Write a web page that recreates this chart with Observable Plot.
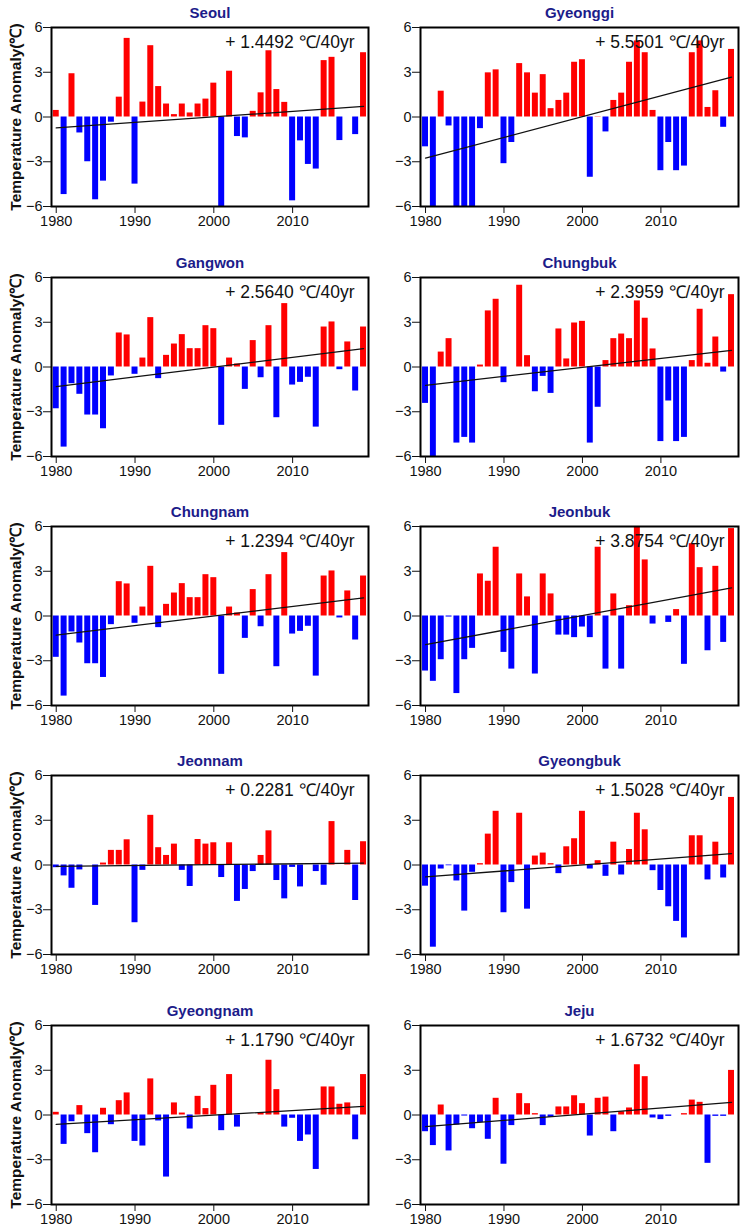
<!DOCTYPE html>
<html>
<head>
<meta charset="utf-8">
<script src="https://cdn.jsdelivr.net/npm/d3@7"></script>
<script src="https://cdn.jsdelivr.net/npm/@observablehq/plot@0.6"></script>
<style>
  html, body { margin: 0; padding: 0; background: #fff; overflow: hidden; }
  #chart { position: relative; width: 748px; height: 1232px; background: #fff; }
</style>
</head>
<body>
<div id="chart"></div>
<script>
const years = [1980,1981,1982,1983,1984,1985,1986,1987,1988,1989,
               1990,1991,1992,1993,1994,1995,1996,1997,1998,1999,
               2000,2001,2002,2003,2004,2005,2006,2007,2008,2009,
               2010,2011,2012,2013,2014,2015,2016,2017,2018,2019];

const regions = ["Seoul","Gyeonggi","Gangwon","Chungbuk","Chungnam","Jeonbuk","Jeonnam","Gyeongbuk","Gyeongnam","Jeju"];

const seoul = [0.44,-5.2,2.9,-1.07,-3.0,-5.55,-4.3,-0.35,1.33,5.27,
  -4.5,1.0,4.78,2.04,0.87,0.16,0.87,0.27,0.87,1.2,
  2.27,-6.0,3.07,-1.31,-1.4,0.38,1.62,4.44,1.84,0.98,
  -5.62,-1.6,-3.18,-3.49,3.78,4.0,-1.58,0.0,-1.18,4.31];
const gyeonggi = [-2.0,-6.0,1.73,-0.6,-6.0,-6.0,-6.0,-0.78,2.96,3.16,
  -3.13,-1.71,3.58,2.96,1.6,2.84,0.56,1.11,1.6,3.67,
  3.84,-4.04,0.02,-1.0,1.11,1.6,3.67,5.1,4.31,0.44,
  -3.6,-1.71,-3.6,-3.29,4.31,5.1,0.64,1.76,-0.69,4.53];
const gangwon = [-2.8,-5.37,-1.12,-1.83,-3.22,-3.22,-4.14,-0.6,2.28,2.15,
  -0.49,0.6,3.31,-0.78,0.78,1.54,2.17,1.23,1.23,2.77,
  2.57,-3.91,0.6,0.2,-1.5,1.77,-0.72,2.77,-3.4,4.25,
  -1.21,-1.03,-0.69,-4.03,2.68,3.02,-0.18,1.68,-1.61,2.68];
const chungbuk = [-2.44,-6.0,1.0,1.9,-5.1,-4.72,-5.1,0.13,3.76,4.54,
  -1.05,0.0,5.48,0.76,-1.66,-0.63,-1.77,2.55,0.54,2.95,
  3.06,-5.1,-2.7,0.43,1.9,2.21,1.9,4.43,3.27,1.21,
  -5.0,-2.28,-5.0,-4.72,0.43,3.87,0.25,2.01,-0.34,4.85];
const chungnam = [-2.77,-5.37,-1.07,-1.81,-3.2,-3.2,-4.12,-0.58,2.3,2.15,
  -0.49,0.6,3.33,-0.78,0.78,1.54,2.17,1.23,1.23,2.77,
  2.57,-3.91,0.6,0.2,-1.5,1.77,-0.72,2.77,-3.4,4.25,
  -1.21,-1.03,-0.69,-4.03,2.68,3.02,-0.13,1.68,-1.61,2.68];
const jeonbuk = [-3.69,-4.38,-2.93,-0.07,-5.2,-2.93,-2.17,2.82,2.33,4.61,
  -2.44,-3.56,2.82,1.28,-3.89,2.82,1.48,-1.28,-1.28,-1.45,
  -0.74,-1.45,4.61,-3.56,1.48,-3.56,0.69,6.0,3.76,-0.54,
  0.0,-0.43,0.43,-3.24,4.85,3.24,-2.33,3.33,-1.77,5.86];
const jeonnam = [-0.18,-0.73,-1.56,-0.33,0.0,-2.71,0.13,0.98,0.98,1.69,
  -3.87,-0.36,3.33,1.16,0.64,1.4,-0.36,-1.44,1.71,1.4,
  1.49,-0.84,1.49,-2.44,-1.64,-0.44,0.64,2.29,-1.04,-2.27,
  -0.16,-1.47,0.0,-0.44,-1.36,2.91,0.0,0.98,-2.38,1.56];
const gyeongbuk = [-1.42,-5.51,-0.27,-0.05,-1.07,-3.09,-0.49,0.09,2.07,3.6,
  -3.2,-1.18,3.47,-2.96,0.6,0.8,0.09,-0.58,1.22,1.76,
  3.6,-0.27,0.29,-0.76,1.53,-0.67,1.04,3.47,2.36,-0.38,
  -1.71,-2.8,-3.78,-4.89,1.96,1.96,-1.0,1.53,-0.87,4.53];
const gyeongnam = [0.18,-1.97,-0.45,0.63,-1.25,-2.53,0.45,-0.65,0.96,1.48,
  -1.77,-2.08,2.42,-0.4,-4.16,0.81,0.13,-0.94,1.25,0.43,
  1.99,-1.05,2.71,-0.81,0.0,0.0,0.16,3.67,1.7,-0.81,
  -0.22,-1.77,-1.34,-3.65,1.88,1.88,0.72,0.81,-1.66,2.71];
const jeju = [-1.12,-2.05,0.67,-2.41,-0.67,-0.07,-0.92,-0.51,-1.63,1.12,
  -3.3,-0.71,1.43,0.76,0.09,-0.71,-0.16,0.54,0.54,1.29,
  0.76,-1.41,1.12,1.2,-1.12,0.22,0.47,3.37,2.57,-0.2,
  -0.31,-0.09,0.0,0.09,1.0,0.85,-3.24,-0.09,-0.09,2.99];

// trend line values at 1980 and 2019
const trendStart = [-0.73,-2.76,-1.32,-1.23,-1.28,-1.92,-0.09,-0.80,-0.63,-0.78];
const trendEnd   = [ 0.71, 2.67, 1.23, 1.12, 1.21, 1.88, 0.13, 0.76, 0.58, 0.85];
const trendLabels = ["+ 1.4492","+ 5.5501","+ 2.5640","+ 2.3959","+ 1.2394","+ 3.8754","+ 0.2281","+ 1.5028","+ 1.1790","+ 1.6732"];
const trendUnit = " \u2103/40yr";

const yTicks = [-6,-3,0,3,6];
const xTicks = [1980,1990,2000,2010];
const yLabel = "Temperature Anomaly(\u2103)";

const series = [seoul, gyeonggi, gangwon, chungbuk, chungnam, jeonbuk, jeonnam, gyeongbuk, gyeongnam, jeju];

const chart = document.getElementById("chart");
const rowTops = [27, 277, 526, 775, 1025];
const FONT = "'Liberation Sans', Arial, Helvetica, sans-serif";

regions.forEach((name, i) => {
  const col = i % 2, row = Math.floor(i / 2);
  const data = years.map((y, k) => ({year: y, value: series[i][k]}));
  const trend = [{year: 1980, value: trendStart[i]}, {year: 2019, value: trendEnd[i]}];
  const left = col === 0;
  const marks = [
    Plot.rectY(data, {
      x1: d => d.year - 0.38, x2: d => d.year + 0.38,
      y1: 0, y2: "value",
      fill: d => d.value >= 0 ? "#ff0000" : "#0000ff",
      clip: true
    }),
    Plot.line(trend, {x: "year", y: "value", stroke: "#111", strokeWidth: 1.3}),
    Plot.frame({stroke: "#000", strokeWidth: 2}),
    Plot.axisX({ticks: xTicks, tickFormat: d => String(d), tickSize: 7, tickPadding: 2, label: null, fontSize: 14.5}),
    Plot.axisY({ticks: yTicks, tickSize: 8, tickPadding: 1, label: null, fontSize: 14.5}),
    Plot.text([name], {frameAnchor: "top", dy: -14, text: d => d, fontWeight: "bold", fontSize: 15, fill: "#1c1c8a", lineAnchor: "middle"}),
    Plot.text([trendLabels[i] + trendUnit], {frameAnchor: "top-right", dx: -14, dy: 15, text: d => d, textAnchor: "end", lineAnchor: "middle", fontSize: 17.5, fill: "#111"})
  ];
  if (left) {
    marks.push(Plot.text([yLabel], {frameAnchor: "left", dx: -35, rotate: -90, text: d => d, textAnchor: "middle", lineAnchor: "middle", fontWeight: "bold", fontSize: 15.5, fill: "#111"}));
  }
  const svg = Plot.plot({
    width: 374,
    height: 234,
    marginLeft: left ? 51 : 46,
    marginRight: left ? 6 : 10,
    marginTop: 27,
    marginBottom: 28,
    x: {domain: left ? [1979.4, 2019.63] : [1979.36, 2019.89]},
    y: {domain: [-6, 6]},
    style: {fontFamily: FONT, fontSize: "14.5px", color: "#111", background: "transparent", overflow: "visible"},
    marks
  });
  svg.style.position = "absolute";
  svg.style.left = (left ? 0 : 374) + "px";
  svg.style.top = (rowTops[row] - 27) + "px";
  chart.appendChild(svg);
});
</script>
</body>
</html>
